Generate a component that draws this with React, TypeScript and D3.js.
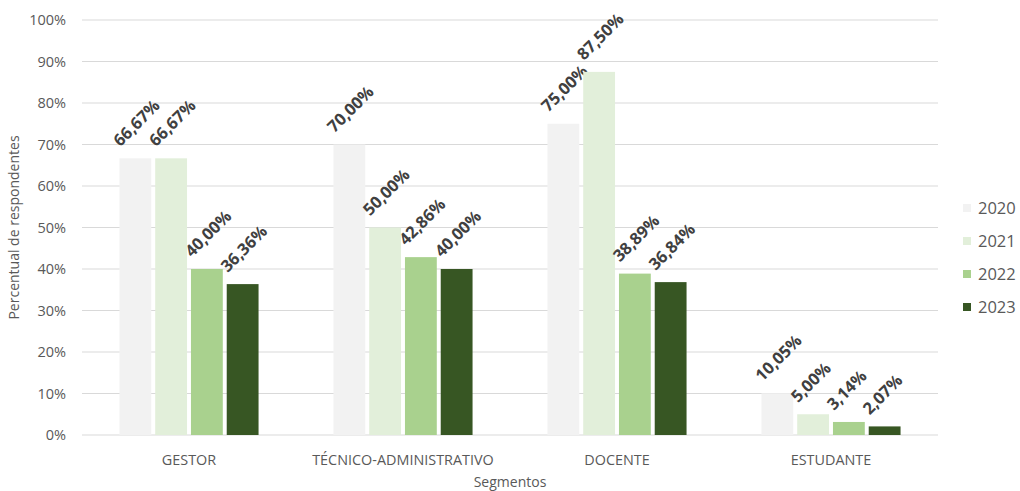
import React, { useEffect, useRef } from 'react';
import * as d3 from 'd3';

const categories = ['GESTOR', 'TÉCNICO-ADMINISTRATIVO', 'DOCENTE', 'ESTUDANTE'];
const years = ['2020', '2021', '2022', '2023'];
const values2020 = [66.67, 70.0, 75.0, 10.05];
const values2021 = [66.67, 50.0, 87.5, 5.0];
const values2022 = [40.0, 42.86, 38.89, 3.14];
const values2023 = [36.36, 40.0, 36.84, 2.07];
const yTicks = [0, 10, 20, 30, 40, 50, 60, 70, 80, 90, 100];
const colors = ['#f2f2f2', '#e2efda', '#a9d18e', '#375623'];

const fmt = (v: number) => v.toFixed(2).replace('.', ',') + '%';

const App: React.FC = () => {
  const svgRef = useRef<SVGSVGElement>(null);

  useEffect(() => {
    const svg = d3.select(svgRef.current);
    svg.selectAll('*').remove();

    const series = [values2020, values2021, values2022, values2023];
    const left = 82;
    const right = 938;
    const top = 20;
    const bottom = 435;

    const x0 = d3.scaleBand().domain(categories).range([left, right]).paddingInner(0.35).paddingOuter(0.175);
    const x1 = d3.scaleBand().domain(years).range([0, x0.bandwidth()]).paddingInner(0.11);
    const y = d3.scaleLinear().domain([0, 100]).range([bottom, top]);

    // gridlines
    svg.append('g')
      .selectAll('line')
      .data(yTicks)
      .enter().append('line')
      .attr('x1', left)
      .attr('x2', right)
      .attr('y1', d => y(d))
      .attr('y2', d => y(d))
      .attr('stroke', '#d9d9d9')
      .attr('stroke-width', 1);

    // y tick labels
    svg.append('g')
      .selectAll('text')
      .data(yTicks)
      .enter().append('text')
      .attr('x', 66)
      .attr('y', d => y(d))
      .attr('dy', '0.35em')
      .attr('text-anchor', 'end')
      .attr('font-family', 'Open Sans, sans-serif')
      .attr('font-size', 14.5)
      .attr('fill', '#595959')
      .text(d => d + '%');

    // bars + labels
    const groups = svg.append('g')
      .selectAll('g')
      .data(categories)
      .enter().append('g')
      .attr('transform', d => `translate(${x0(d)},0)`);

    groups.each(function (cat, ci) {
      const g = d3.select(this);
      years.forEach((yr, si) => {
        const v = series[si][ci];
        const bx = x1(yr)!;
        g.append('rect')
          .attr('x', bx)
          .attr('y', y(v))
          .attr('width', x1.bandwidth())
          .attr('height', y(0) - y(v))
          .attr('fill', colors[si]);
        const cx = bx + x1.bandwidth() / 2;
        g.append('text')
          .attr('transform', `translate(${cx - 15},${y(v) - 11}) rotate(-45)`)
          .attr('font-family', 'Open Sans, sans-serif')
          .attr('font-weight', 'bold')
          .attr('font-size', 16.5)
          .attr('fill', '#404040')
          .text(fmt(v));
      });
    });

    // x labels
    svg.append('g')
      .selectAll('text')
      .data(categories)
      .enter().append('text')
      .attr('x', d => x0(d)! + x0.bandwidth() / 2)
      .attr('y', 465)
      .attr('text-anchor', 'middle')
      .attr('font-family', 'Open Sans, sans-serif')
      .attr('font-size', 14.4)
      .attr('fill', '#595959')
      .text(d => d);

    // axis titles
    svg.append('text')
      .attr('x', 510)
      .attr('y', 487)
      .attr('text-anchor', 'middle')
      .attr('font-family', 'Open Sans, sans-serif')
      .attr('font-size', 14)
      .attr('fill', '#595959')
      .text('Segmentos');

    svg.append('text')
      .attr('transform', `translate(19,${(top + bottom) / 2}) rotate(-90)`)
      .attr('text-anchor', 'middle')
      .attr('font-family', 'Open Sans, sans-serif')
      .attr('font-size', 14)
      .attr('fill', '#595959')
      .text('Percentual de respondentes');

    // legend
    const legend = svg.append('g')
      .selectAll('g')
      .data(years)
      .enter().append('g')
      .attr('transform', (d, i) => `translate(963,${208 + i * 33})`);
    legend.append('rect')
      .attr('x', 0)
      .attr('y', -4)
      .attr('width', 8)
      .attr('height', 8)
      .attr('fill', (d, i) => colors[i]);
    legend.append('text')
      .attr('x', 15)
      .attr('y', 0)
      .attr('dy', '0.35em')
      .attr('font-family', 'Open Sans, sans-serif')
      .attr('font-size', 16.5)
      .attr('fill', '#595959')
      .text(d => d);
  }, []);

  return (
    <svg ref={svgRef} width={1020} height={491} style={{ position: 'absolute', left: 0, top: 0, background: '#fff' }}></svg>
  );
};

export default App;
